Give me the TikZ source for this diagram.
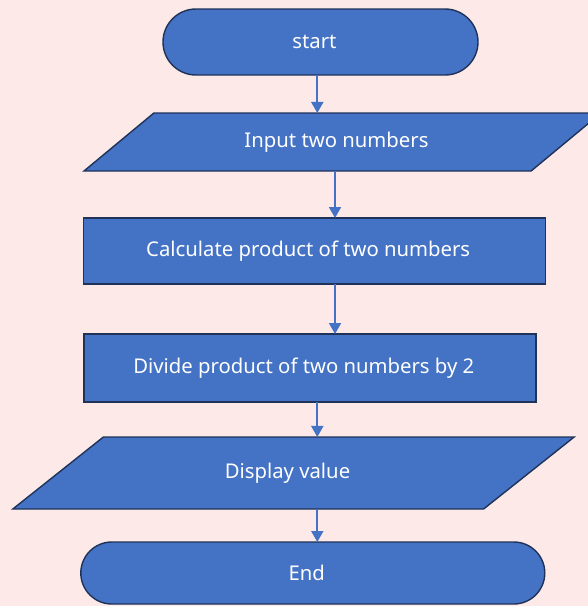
\documentclass[tikz,border=0pt]{standalone}
\usepackage{fontspec}
\setmainfont{Noto Sans}
\usetikzlibrary{shapes.geometric,arrows.meta}

\definecolor{bgpink}{HTML}{FDE9E8}
\definecolor{boxblue}{HTML}{4472C4}
\definecolor{edgenavy}{HTML}{1F3359}

\tikzset{
  box/.style={draw=edgenavy, fill=boxblue, line width=1.4pt, text=white,
    font=\fontsize{20.3}{24}\selectfont, inner sep=0pt, outer sep=0pt,
    execute at end node={\hspace*{12pt}}},
  terminal/.style={box, rectangle, rounded corners=#1},
  process/.style={box, rectangle},
  io/.style={box, trapezium, trapezium stretches=true,
    trapezium left angle=#1, trapezium right angle=180-#1},
  arr/.style={draw=boxblue, line width=1.8pt,
    -{Triangle[length=11pt,width=12pt]}}
}

\begin{document}
\begin{tikzpicture}[x=1pt, y=-1pt]
  % page and background
  \useasboundingbox (0,0) rectangle (588,606);
  \clip (0,0) rectangle (588,606);
  \fill[bgpink] (0,0) rectangle (588,606);

  % flowchart steps
  \node[terminal=33pt, minimum width=315pt, minimum height=66pt]
    (start) at (320.5,42) {start};
  \node[io=29.2, minimum width=519pt, minimum height=58pt]
    (input) at (342.5,142) {Input two numbers};
  \node[process, minimum width=462pt, minimum height=66pt]
    (calc) at (314.2,251) {Calculate product of two numbers};
  \node[process, minimum width=452pt, minimum height=68pt]
    (divide) at (309.8,368) {Divide product of two numbers by 2};
  \node[io=31.8, minimum width=563pt, minimum height=72pt]
    (display) at (293.5,473) {Display value};
  \node[terminal=31pt, minimum width=464pt, minimum height=62pt]
    (end) at (312.8,573) {End};

  % columns the connectors run along
  \coordinate (colA) at (317.3,0);
  \coordinate (colB) at (335,0);

  % connectors
  \draw[arr] (start.south -| colA) -- (input.north -| colA);
  \draw[arr] (input.south -| colB) -- (calc.north -| colB);
  \draw[arr] (calc.south -| colB) -- (divide.north -| colB);
  \draw[arr] (divide.south -| colA) -- (display.north -| colA);
  \draw[arr] (display.south -| colA) -- (end.north -| colA);
\end{tikzpicture}
\end{document}
